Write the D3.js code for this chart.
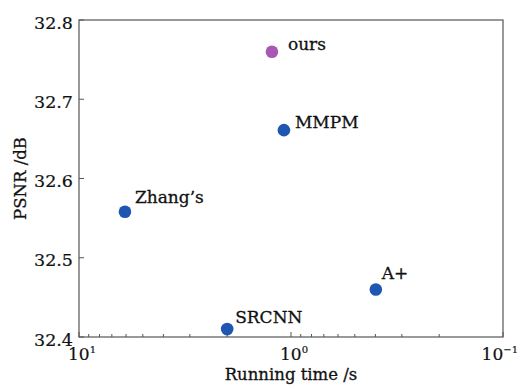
<!DOCTYPE html>
<html><head><meta charset="utf-8">
<script src="https://cdn.jsdelivr.net/npm/d3@7"></script>
<style>body{margin:0;background:#fff}svg{display:block}text{font-family:"DejaVu Serif",serif;fill:#111}</style>
</head><body>
<svg id="c" width="520" height="389"></svg>
<script>
const methods = ["ours","MMPM","Zhang\u2019s","SRCNN","A+"];
const runTime = [1.23, 1.08, 6.07, 2.0, 0.398];
const psnr = [32.76, 32.661, 32.558, 32.41, 32.46];
const colorsBy = ["#a957b3","#1f56b1","#1f56b1","#1f56b1","#1f56b1"];
const yTicks = [32.4, 32.5, 32.6, 32.7, 32.8];
const xTicks = [10, 1, 0.1];
const xTickExp = ["1","0","\u22121"];
const labelOff = [[16,-2],[11,-2],[10,-9],[8,-6],[6,-10]];

const L=79, R=503, T=20, B=337;
const svg=d3.select("#c");
const x=d3.scaleLog().domain([10,0.1]).range([L,R]);
const y=d3.scaleLinear().domain([32.4,32.8]).range([B,T]);

svg.append("rect").attr("x",L).attr("y",T).attr("width",R-L).attr("height",B-T)
  .attr("fill","none").attr("stroke","#555").attr("stroke-width",1.2);

yTicks.forEach(v=>{
  svg.append("line").attr("x1",L).attr("x2",L+5).attr("y1",y(v)).attr("y2",y(v)).attr("stroke","#555");
  svg.append("text").attr("x",73).attr("y",y(v)+8.5).attr("text-anchor","end")
    .attr("font-size",17.5).attr("stroke","#111").attr("stroke-width",0.2).text(v.toFixed(1));
});
const minor=[];
[10,1].forEach(d=>{for(let k=2;k<=9;k++) minor.push(d*k/10);});
minor.forEach(v=>{
  svg.append("line").attr("x1",x(v)).attr("x2",x(v)).attr("y1",B).attr("y2",B-3).attr("stroke","#555");
});
xTicks.forEach((v,i)=>{
  svg.append("line").attr("x1",x(v)).attr("x2",x(v)).attr("y1",B).attr("y2",B-5).attr("stroke","#555");
  const last = i===xTicks.length-1;
  const t=svg.append("text").attr("x",last?518:x(v)-11).attr("y",360).attr("font-size",17)
    .attr("text-anchor",last?"end":"start")
    .attr("stroke","#111").attr("stroke-width",0.2);
  t.append("tspan").text("10");
  t.append("tspan").attr("dy",-7).attr("font-size",10).text(xTickExp[i]);
});

svg.append("text").attr("x",(L+R)/2).attr("y",380).attr("text-anchor","middle").attr("font-size",16.5)
  .attr("stroke","#111").attr("stroke-width",0.3).text("Running time /s");
svg.append("text").attr("transform",`translate(26,${(T+B)/2}) rotate(-90)`).attr("text-anchor","middle")
  .attr("font-size",16.5).attr("stroke","#111").attr("stroke-width",0.3).text("PSNR /dB");

methods.forEach((m,i)=>{
  svg.append("circle").attr("cx",x(runTime[i])).attr("cy",y(psnr[i])).attr("r",6.3).attr("fill",colorsBy[i]);
  svg.append("text").attr("x",x(runTime[i])+labelOff[i][0]).attr("y",y(psnr[i])+labelOff[i][1])
    .attr("font-size",17).attr("stroke","#111").attr("stroke-width",0.3).text(m);
});
</script>
</body></html>
